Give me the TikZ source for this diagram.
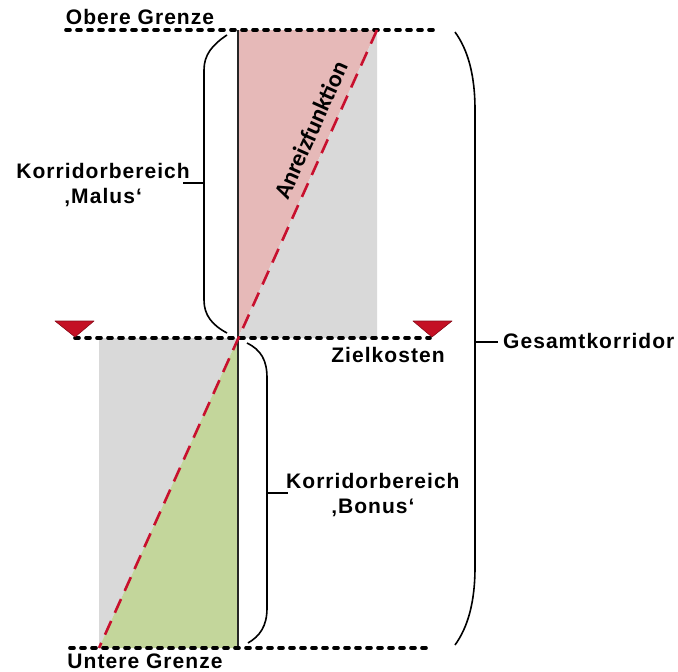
\documentclass[tikz,border=0pt]{standalone}
\usepackage{fontspec}
\setmainfont{Liberation Sans}[LetterSpace=5]
\newfontfamily\calfont{Carlito}
\definecolor{pinkfill}{RGB}{230,185,184}
\definecolor{grayfill}{RGB}{217,217,217}
\definecolor{greenfill}{RGB}{195,214,155}
\definecolor{redline}{RGB}{200,16,46}
\definecolor{redtri}{RGB}{196,16,36}
\begin{document}
\begin{tikzpicture}[x=1pt,y=-1pt,
  lbl/.style={font=\fontsize{21}{24}\selectfont\bfseries, inner sep=0pt, align=center},
  dotline/.style={line width=3.6pt, line cap=round, dash pattern=on 4pt off 7pt},
  bracestyle/.style={line width=1.6pt, black},
  redtriangle/.style={fill=redtri, draw=redtri!70!black, line width=0.6pt, line join=round},
  anreiz/.style={draw=redline, line width=2.6pt, dash pattern=on 15pt off 9pt}]
\useasboundingbox (0,0) rectangle (678,672);
% key points
\coordinate (C) at (238,338);
\coordinate (TR) at (377,30);
\coordinate (TC) at (238,30);
\coordinate (BL) at (99,648);
\coordinate (BC) at (238,648);
\coordinate (ML) at (99,338);
\coordinate (MR) at (377,338);
% fills
\fill[pinkfill] (TC) -- (TR) -- (C) -- cycle;
\fill[grayfill] (TR) -- (MR) -- (C) -- cycle;
\fill[grayfill] (ML) -- (C) -- (BL) -- cycle;
\fill[greenfill] (C) -- (BC) -- (BL) -- cycle;
% vertical axis
\draw[line width=1.3pt, black!85] (TC) -- (BC);
% dotted limits
\coordinate (t1) at (66,30); \coordinate (t2) at (434,30);
\coordinate (m1) at (75,338); \coordinate (m2) at (430,338);
\coordinate (b1) at (70,648); \coordinate (b2) at (430,648);
\draw[dotline] (t1) -- (t2);
\draw[dotline] (m1) -- (m2);
\draw[dotline] (b1) -- (b2);
% incentive function
\draw[anreiz] (TR) -- (BL);
\node[font=\calfont\fontsize{24}{28}\selectfont\bfseries, rotate=65.8, inner sep=0pt] (anr) at (311,130) {Anreizfunktion};
% markers
\draw[redtriangle] (55,321) -- (94,321) -- (75,337) -- cycle;
\draw[redtriangle] (413,321) -- (452,321) -- (432,337) -- cycle;
% braces
\draw[bracestyle] (227,35) .. controls (212,45) and (204,55) .. (204,70) -- (204,300) .. controls (204,315) and (212,325) .. (227,333);
\coordinate (malusTip) at (183,183);
\draw[bracestyle] (204,183) -- (malusTip);
\draw[bracestyle] (247,343) .. controls (261,350) and (267,360) .. (267,378) -- (267,608) .. controls (267,626) and (260,636) .. (248,643);
\coordinate (bonusTip) at (288,493);
\draw[bracestyle] (267,493) -- (bonusTip);
\draw[bracestyle] (455,32) .. controls (468,50) and (475,75) .. (475,110) -- (475,567) .. controls (475,602) and (468,627) .. (455,645);
\coordinate (gesTip) at (498,342);
\draw[bracestyle] (475,342) -- (gesTip);
% labels
\node[lbl] (obere) at (140,17) {Obere Grenze};
\node[lbl] (untere) at (145,661) {Untere Grenze};
\node[lbl, anchor=east] (malus) at (190,185) {Korridorbereich\\[1pt]‚Malus‘};
\node[lbl, anchor=west] (bonus) at (286,495) {Korridorbereich\\[1pt]‚Bonus‘};
\node[lbl] (ziel) at (388,355) {Zielkosten};
\node[lbl, anchor=west] (ges) at (503,341) {Gesamtkorridor};
\end{tikzpicture}
\end{document}
